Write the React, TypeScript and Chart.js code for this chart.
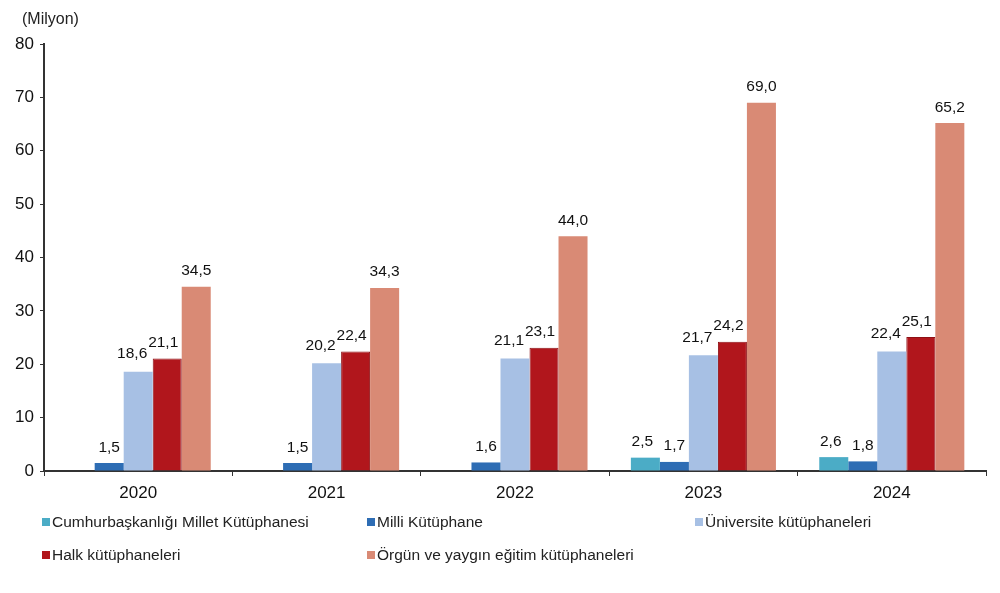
import React, { useEffect, useRef } from "react";
import { Chart, registerables } from "chart.js";

Chart.register(...registerables);

const years = ["2020", "2021", "2022", "2023", "2024"];
const cumhur = [null, null, null, 2.5, 2.6];
const milli = [1.5, 1.5, 1.6, 1.7, 1.8];
const universite = [18.6, 20.2, 21.1, 21.7, 22.4];
const halk = [21.1, 22.4, 23.1, 24.2, 25.1];
const orgun = [34.5, 34.3, 44.0, 69.0, 65.2];

const seriesNames = [
  "Cumhurbaşkanlığı Millet Kütüphanesi",
  "Milli Kütüphane",
  "Üniversite kütüphaneleri",
  "Halk kütüphaneleri",
  "Örgün ve yaygın eğitim kütüphaneleri",
];
const seriesColors = ["#4BACC6", "#2E6DB4", "#A7C0E4", "#B1161C", "#D98A75"];
const yTicks = [0, 10, 20, 30, 40, 50, 60, 70, 80];
const unitLabel = "(Milyon)";

const FONT = "'Liberation Sans', Arial, sans-serif";

// label nudges per series (x shift, extra lift), styling only
const labelDx = [-3, 0, -6, -4, 0];
const labelLift = [8, 8, 10, 8, 8];

const valueLabels = {
  id: "valueLabels",
  afterDatasetsDraw(chart: any) {
    const ctx = chart.ctx;
    ctx.save();
    ctx.font = `15.5px ${FONT}`;
    ctx.fillStyle = "#111";
    ctx.textAlign = "center";
    ctx.textBaseline = "bottom";
    chart.data.datasets.forEach((ds: any, i: number) => {
      const meta = chart.getDatasetMeta(i);
      meta.data.forEach((bar: any, j: number) => {
        const v = ds.data[j];
        if (v === null || v === undefined) return;
        ctx.fillText(v.toFixed(1).replace(".", ","), bar.x + labelDx[i], bar.y - labelLift[i]);
      });
    });
    ctx.restore();
  },
};

export default function App() {
  const ref = useRef<HTMLCanvasElement>(null);
  useEffect(() => {
    document.body.style.margin = "0";
    const data = [cumhur, milli, universite, halk, orgun];
    const chart = new Chart(ref.current!, {
      type: "bar",
      data: {
        labels: years,
        datasets: data.map((d, i) => ({
          label: seriesNames[i],
          data: d as any,
          backgroundColor: seriesColors[i],
          borderColor: i === 3 ? "#8E1015" : seriesColors[i],
          borderWidth: i === 3 ? 1 : 0,
          barPercentage: 1,
          categoryPercentage: 0.77,
        })),
      },
      options: {
        responsive: false,
        animation: false,
        devicePixelRatio: 1,
        layout: { padding: { top: 44, right: 14, bottom: 0, left: 0 } },
        plugins: {
          legend: { display: false },
          tooltip: { enabled: false },
        },
        scales: {
          x: {
            afterFit: (s: any) => {
              s.height = 122;
            },
            grid: {
              display: true,
              drawOnChartArea: false,
              drawTicks: true,
              tickLength: 5,
              color: "#333",
              offset: true,
            },
            border: { display: true, color: "#333", width: 2 },
            ticks: {
              color: "#111",
              font: { family: FONT, size: 17 },
              padding: 7,
            },
          },
          y: {
            min: 0,
            max: 80,
            afterFit: (s: any) => {
              s.width = 44;
            },
            afterBuildTicks: (s: any) => {
              s.ticks = yTicks.map((v) => ({ value: v }));
            },
            grid: {
              display: true,
              drawOnChartArea: false,
              drawTicks: true,
              tickLength: 4,
              color: "#333",
            },
            border: { display: true, color: "#333", width: 2 },
            ticks: {
              color: "#111",
              font: { family: FONT, size: 17 },
              padding: 6,
            },
          },
        },
      },
      plugins: [valueLabels],
    });
    return () => chart.destroy();
  }, []);

  const legendPos = [
    { left: 42, top: 513 },
    { left: 367, top: 513 },
    { left: 695, top: 513 },
    { left: 42, top: 546 },
    { left: 367, top: 546 },
  ];

  return (
    <div style={{ position: "relative", width: 1000, height: 593, background: "#fff", fontFamily: FONT }}>
      <canvas ref={ref} width={1000} height={593} style={{ position: "absolute", left: 0, top: 0 }} />
      <div style={{ position: "absolute", left: 22, top: 10, fontSize: 16, color: "#222" }}>{unitLabel}</div>
      {seriesNames.map((n, i) => (
        <div
          key={n}
          style={{
            position: "absolute",
            left: legendPos[i].left,
            top: legendPos[i].top,
            display: "flex",
            alignItems: "center",
            fontSize: 15.5,
            color: "#222",
            whiteSpace: "nowrap",
          }}
        >
          <span style={{ width: 8, height: 8, background: seriesColors[i], marginRight: 2, display: "inline-block" }} />
          {n}
        </div>
      ))}
    </div>
  );
}
